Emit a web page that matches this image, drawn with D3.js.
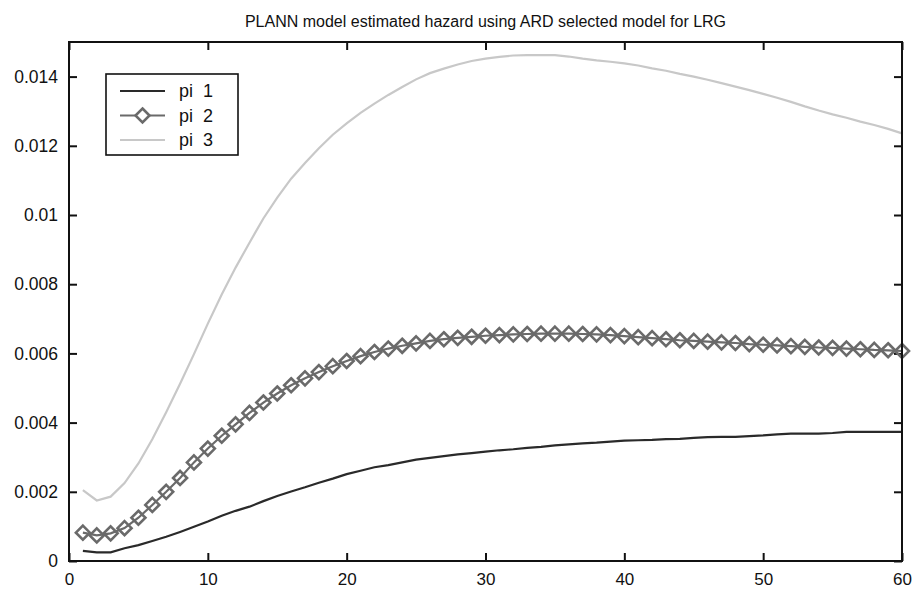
<!DOCTYPE html>
<html>
<head>
<meta charset="utf-8">
<script src="https://cdn.jsdelivr.net/npm/d3@7"></script>
<style>
  body { margin: 0; background: #fff; overflow: hidden; }
  svg { display: block; }
  svg text { font-family: "Liberation Sans", Arial, Helvetica, sans-serif; fill: #111; }
</style>
</head>
<body>
<div id="chart"></div>
<script>
var title = 'PLANN model estimated hazard using ARD selected model for LRG';

var months = d3.range(1, 61);

var pi1 = [0.00029, 0.00025, 0.00025, 0.00037, 0.00046, 0.00058, 0.0007, 0.00084, 0.00099, 0.00114,
           0.00131, 0.00145, 0.00157, 0.00173, 0.00188, 0.00201, 0.00213, 0.00226, 0.00238, 0.00251,
           0.00261, 0.00271, 0.00277, 0.00285, 0.00293, 0.00298, 0.00303, 0.00308, 0.00312, 0.00316,
           0.0032, 0.00323, 0.00327, 0.0033, 0.00334, 0.00337, 0.0034, 0.00342, 0.00345, 0.00348,
           0.00349, 0.0035, 0.00352, 0.00353, 0.00356, 0.00358, 0.00359, 0.00359, 0.00361, 0.00363,
           0.00366, 0.00368, 0.00368, 0.00368, 0.0037, 0.00373, 0.00373, 0.00373, 0.00373, 0.00373];

var pi2 = [0.00082, 0.00074, 0.0008, 0.00095, 0.00125, 0.00162, 0.002, 0.0024, 0.00285, 0.00325,
           0.00362, 0.00395, 0.00428, 0.00458, 0.00484, 0.00508, 0.00528, 0.00546, 0.00563, 0.00578,
           0.00592, 0.00604, 0.00614, 0.00622, 0.00629, 0.00636, 0.00641, 0.00645, 0.00648, 0.00651,
           0.00653, 0.00655, 0.00656, 0.00657, 0.00657, 0.00657, 0.00656, 0.00655, 0.00653, 0.0065,
           0.00647, 0.00644, 0.00641, 0.00638, 0.00636, 0.00634, 0.00632, 0.0063, 0.00627, 0.00625,
           0.00623, 0.00621, 0.00619, 0.00617, 0.00616, 0.00614, 0.00612, 0.0061, 0.00609, 0.00607];

var pi3 = [0.00205, 0.00175, 0.00186, 0.00225, 0.00282, 0.00352, 0.0043, 0.00512, 0.00598, 0.00686,
           0.0077, 0.00848, 0.0092, 0.0099, 0.0105, 0.01105, 0.0115, 0.01193, 0.01232, 0.01265,
           0.01295, 0.01322, 0.01347, 0.0137, 0.01392, 0.0141, 0.01423, 0.01435, 0.01445, 0.01452,
           0.01457, 0.01461, 0.01462, 0.01462, 0.01462, 0.01458, 0.01452, 0.01447, 0.01443, 0.01438,
           0.01432, 0.01424, 0.01417, 0.01408, 0.014, 0.01391, 0.01381, 0.01371, 0.01361, 0.0135,
           0.01339, 0.01327, 0.01314, 0.01302, 0.01291, 0.01281, 0.0127, 0.0126, 0.01249, 0.01236];

var xTicks = [0, 10, 20, 30, 40, 50, 60];
var yTicks = [0, 0.002, 0.004, 0.006, 0.008, 0.01, 0.012, 0.014];
var seriesNames = ['pi  1', 'pi  2', 'pi  3'];

var width = 915, height = 589,
    margin = {top: 42, right: 13, bottom: 28, left: 69};

var svg = d3.select('#chart').append('svg')
    .attr('width', width)
    .attr('height', height);

var x = d3.scaleLinear().domain([0, 60]).range([margin.left, width - margin.right]),
    y = d3.scaleLinear().domain([0, 0.015]).range([height - margin.bottom, margin.top]);

svg.append('text')
   .attr('x', (x.range()[0] + x.range()[1]) / 2)
   .attr('y', 27)
   .attr('text-anchor', 'middle')
   .style('font-size', '16px')
   .text(title);

// axes, ticks pointing in
function fmt(d) { return d === 0 ? '0' : d3.format('')(+d.toFixed(3)); }

var bottomAxis = svg.append('g')
   .attr('transform', 'translate(0,' + y(0) + ')')
   .call(d3.axisBottom(x).tickValues(xTicks).tickSizeInner(-8).tickSizeOuter(0).tickPadding(10).tickFormat(d3.format('d')));

var leftAxis = svg.append('g')
   .attr('transform', 'translate(' + x(0) + ',0)')
   .call(d3.axisLeft(y).tickValues(yTicks).tickSizeInner(-8).tickSizeOuter(0).tickPadding(11).tickFormat(fmt));

svg.append('g')
   .attr('transform', 'translate(0,' + y(0.015) + ')')
   .call(d3.axisTop(x).tickValues(xTicks).tickSizeInner(-8).tickSizeOuter(0).tickFormat(''));

svg.append('g')
   .attr('transform', 'translate(' + x(60) + ',0)')
   .call(d3.axisRight(y).tickValues(yTicks).tickSizeInner(-8).tickSizeOuter(0).tickFormat(''));

svg.selectAll('.domain').remove();
svg.selectAll('.tick line').attr('stroke', '#111').attr('stroke-width', 2);
leftAxis.selectAll('.tick text').style('font-size', '17.5px').attr('fill', '#111');
bottomAxis.selectAll('.tick text').style('font-size', '17px').attr('fill', '#111')
          .attr('y', 12).attr('dy', '0.72em');

var line = d3.line()
    .x(function (d, i) { return x(months[i]); })
    .y(function (d) { return y(d); });

var styles = [
  {data: pi1, color: '#2a2a2a', width: 2.2},
  {data: pi2, color: '#6a6a6a', width: 2.2},
  {data: pi3, color: '#c8c8c8', width: 2.2}
];

var plot = svg.append('g');

plot.append('path').datum(pi3).attr('d', line)
    .attr('fill', 'none').attr('stroke', styles[2].color).attr('stroke-width', styles[2].width);
plot.append('path').datum(pi1).attr('d', line)
    .attr('fill', 'none').attr('stroke', styles[0].color).attr('stroke-width', styles[0].width);
plot.append('path').datum(pi2).attr('d', line)
    .attr('fill', 'none').attr('stroke', styles[1].color).attr('stroke-width', styles[1].width);

function diamond(cx, cy, r) {
  return 'M' + cx + ',' + (cy - r) + 'L' + (cx + r) + ',' + cy + 'L' + cx + ',' + (cy + r) + 'L' + (cx - r) + ',' + cy + 'Z';
}

plot.selectAll('path.marker')
    .data(pi2)
    .enter().append('path')
    .attr('class', 'marker')
    .attr('d', function (d, i) { return diamond(x(months[i]), y(d), 7); })
    .attr('fill', 'none')
    .attr('stroke', styles[1].color)
    .attr('stroke-width', 2.6);

// frame
svg.append('rect')
   .attr('x', x(0)).attr('y', y(0.015))
   .attr('width', x(60) - x(0)).attr('height', y(0) - y(0.015))
   .attr('fill', 'none').attr('stroke', '#111').attr('stroke-width', 2);

// legend
var legend = svg.append('g');
legend.append('rect')
      .attr('x', 106).attr('y', 74).attr('width', 132).attr('height', 81)
      .attr('fill', '#fff').attr('stroke', '#111').attr('stroke-width', 1.6);

var rows = legend.selectAll('g.row')
    .data(styles)
    .enter().append('g')
    .attr('class', 'row')
    .attr('transform', function (d, i) { return 'translate(0,' + (91 + i * 24.5) + ')'; });

rows.append('line')
    .attr('x1', 120).attr('x2', 165)
    .attr('stroke', function (d) { return d.color; })
    .attr('stroke-width', function (d) { return d.width; });

rows.filter(function (d, i) { return i === 1; })
    .append('path')
    .attr('d', diamond(142.5, 0, 7))
    .attr('fill', '#fff')
    .attr('stroke', styles[1].color)
    .attr('stroke-width', 2.6);

rows.append('text')
    .attr('x', 179)
    .attr('y', 0)
    .attr('dy', '0.35em')
    .style('font-size', '18px')
    .style('white-space', 'pre')
    .text(function (d, i) { return seriesNames[i]; });
</script>
</body>
</html>
